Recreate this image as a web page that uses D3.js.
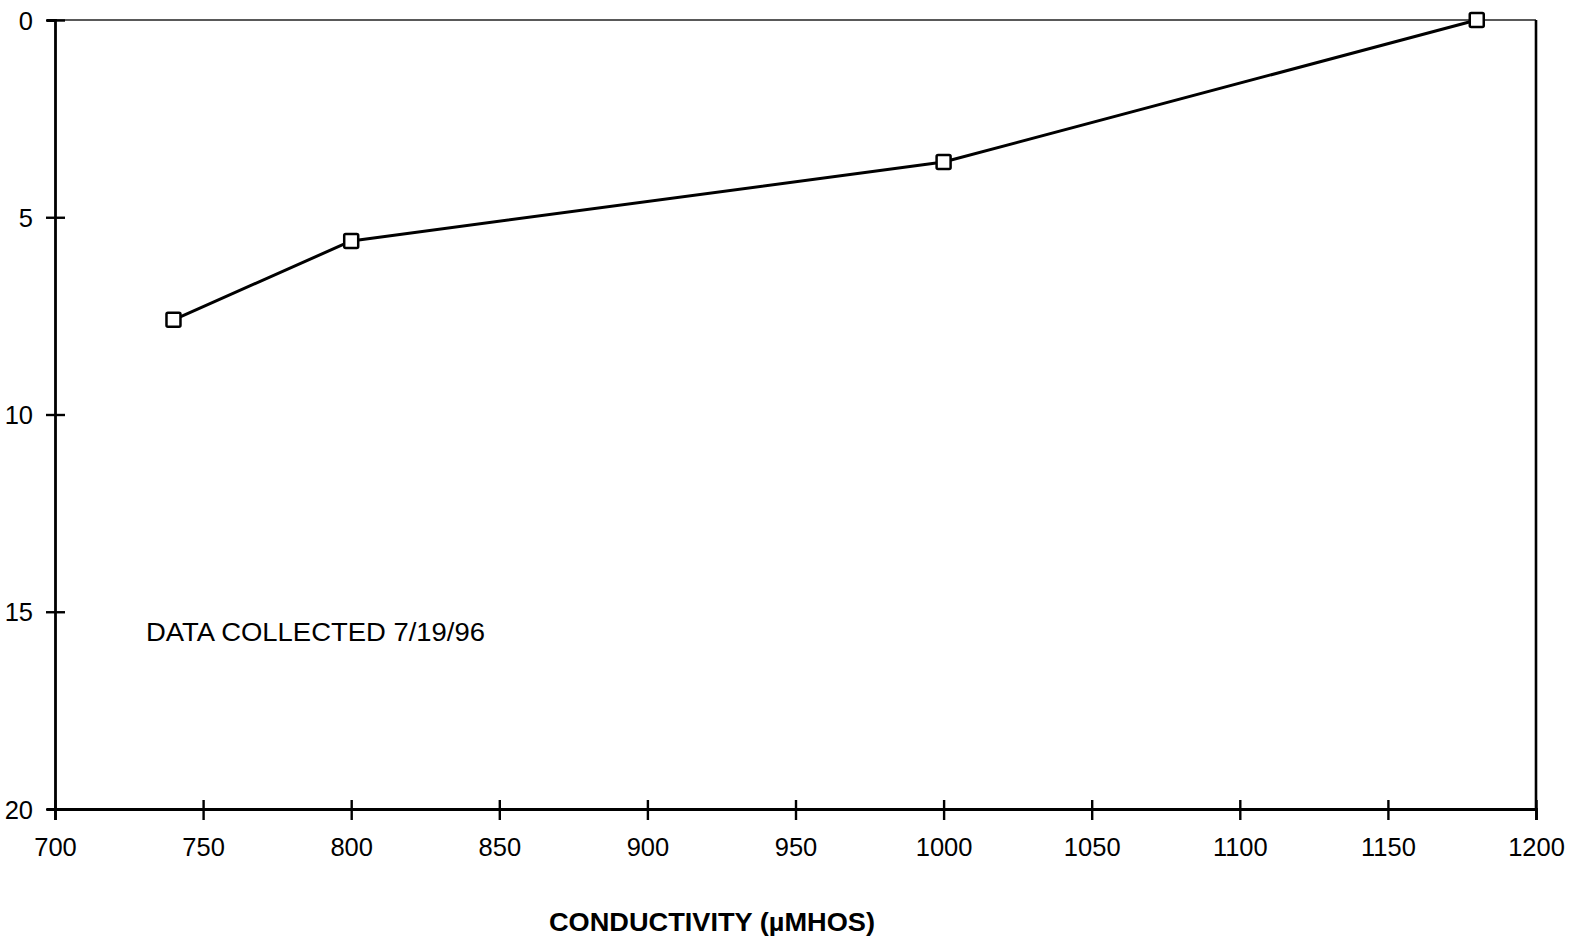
<!DOCTYPE html>
<html>
<head>
<meta charset="utf-8">
<script src="https://cdn.jsdelivr.net/npm/d3@7"></script>
<style>
  html, body { margin: 0; padding: 0; background: #fff; }
  svg { display: block; }
  text { font-family: "Liberation Sans", Arial, sans-serif; fill: #000; }
</style>
</head>
<body>
<svg id="chart" width="1581" height="941"></svg>
<script>
// Conductivity profile with depth
const conductivity = [740, 800, 1000, 1180];
const depth = [7.6, 5.6, 3.6, 0];
const xTicks = [700, 750, 800, 850, 900, 950, 1000, 1050, 1100, 1150, 1200];
const yTicks = [0, 5, 10, 15, 20];
const xTitle = "CONDUCTIVITY (\u00B5MHOS)";
const note = "DATA COLLECTED 7/19/96";

const svg = d3.select("#chart");
const W = 1581, H = 941;
const plotL = 55, plotR = 1536, plotT = 20, plotB = 809;

svg.append("rect").attr("width", W).attr("height", H).attr("fill", "#fff");

const x = d3.scaleLinear().domain([700, 1200]).range([plotL, plotR]);
const y = d3.scaleLinear().domain([0, 20]).range([plotT, plotB]);

// plot frame: top and right edges
svg.append("line")
  .attr("x1", plotL).attr("x2", plotR).attr("y1", plotT).attr("y2", plotT)
  .attr("stroke", "#222").attr("stroke-width", 1.6);
svg.append("line")
  .attr("x1", plotR).attr("x2", plotR).attr("y1", plotT).attr("y2", plotB)
  .attr("stroke", "#000").attr("stroke-width", 2.6);

// x axis with crossing tick marks
const gx = svg.append("g")
  .attr("transform", `translate(0,${plotB})`)
  .call(d3.axisBottom(x).tickValues(xTicks).tickFormat(d => d).tickSize(11).tickPadding(28));
gx.select(".domain").attr("stroke", "#000").attr("stroke-width", 2.8);
gx.selectAll(".tick line").attr("y1", -9).attr("y2", 11).attr("stroke", "#000").attr("stroke-width", 2.4);
gx.selectAll(".tick text")
  .attr("font-size", 25.5).attr("font-family", "Liberation Sans, Arial, sans-serif")
  .attr("fill", "#000").attr("dy", "0.71em").attr("y", 29);

// y axis (depth increases downward)
const gy = svg.append("g")
  .attr("transform", `translate(${plotL},0)`)
  .call(d3.axisLeft(y).tickValues(yTicks).tickFormat(d => d).tickSize(8).tickPadding(14));
gy.select(".domain").attr("stroke", "#000").attr("stroke-width", 2.8);
gy.selectAll(".tick line").attr("x1", -9).attr("x2", 10).attr("stroke", "#000").attr("stroke-width", 2.4);
gy.selectAll(".tick text")
  .attr("font-size", 25.5).attr("font-family", "Liberation Sans, Arial, sans-serif")
  .attr("fill", "#000").attr("x", -22).attr("dy", "0.36em");

// profile line
const pts = conductivity.map((c, i) => [c, depth[i]]);
svg.append("path")
  .datum(pts)
  .attr("fill", "none").attr("stroke", "#000").attr("stroke-width", 3)
  .attr("stroke-linejoin", "round")
  .attr("d", d3.line().x(d => x(d[0])).y(d => y(d[1])));

// square markers
const s = 14;
svg.selectAll("rect.marker")
  .data(pts)
  .join("rect")
  .attr("class", "marker")
  .attr("x", d => x(d[0]) - s / 2).attr("y", d => y(d[1]) - s / 2)
  .attr("width", s).attr("height", s).attr("rx", 1.5)
  .attr("fill", "#fff").attr("stroke", "#000").attr("stroke-width", 2.5);

// annotation
svg.append("text")
  .attr("x", 146).attr("y", 641)
  .attr("font-size", 25)
  .attr("textLength", 339).attr("lengthAdjust", "spacingAndGlyphs")
  .text(note);

// x-axis title
svg.append("text")
  .attr("x", (549 + 875) / 2).attr("y", 931)
  .attr("text-anchor", "middle")
  .attr("font-size", 26).attr("font-weight", "bold")
  .attr("textLength", 326).attr("lengthAdjust", "spacingAndGlyphs")
  .text(xTitle);
</script>
</body>
</html>
